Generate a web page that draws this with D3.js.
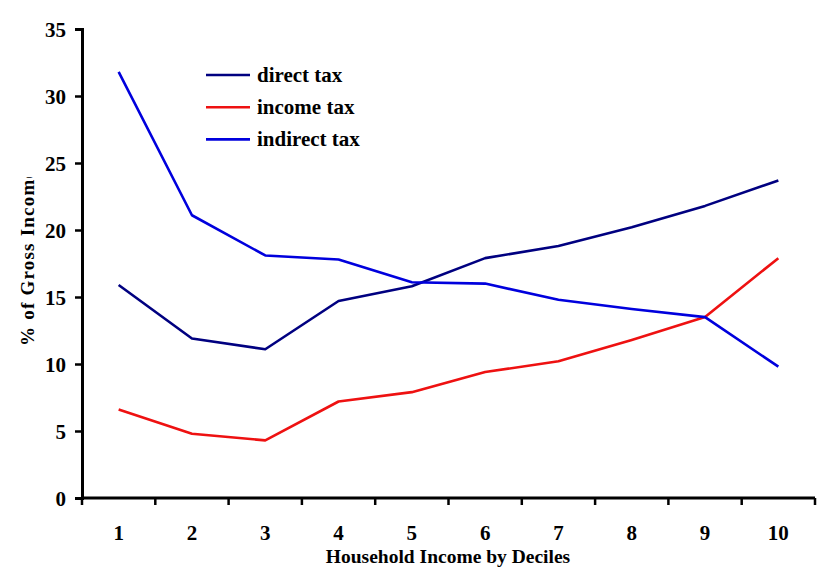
<!DOCTYPE html>
<html><head><meta charset="utf-8">
<script src="https://cdn.jsdelivr.net/npm/d3@7"></script>
<style>body{margin:0;background:#fff}svg{display:block}text{font-family:"Liberation Serif","Times New Roman",serif;font-weight:bold;fill:#000}</style>
</head><body>
<svg id="c" width="830" height="584"></svg>
<script>
const deciles = [1,2,3,4,5,6,7,8,9,10];
const directTax = [15.9,11.9,11.1,14.7,15.8,17.9,18.8,20.2,21.8,23.7];
const incomeTax = [6.6,4.8,4.3,7.2,7.9,9.4,10.2,11.8,13.5,17.9];
const indirectTax = [31.8,21.1,18.1,17.8,16.1,16.0,14.8,14.1,13.5,9.8];
const yTicks = [0,5,10,15,20,25,30,35];
const seriesNames = ["direct tax","income tax","indirect tax"];
const seriesColors = ["#000080","#ee1111","#0000dd"];
const seriesData = [directTax, incomeTax, indirectTax];

const svg = d3.select("#c");
const L = 82, R = 815, T = 29, B = 498;
const x = d3.scaleBand().domain(deciles).range([L, R]);
const y = d3.scaleLinear().domain([0,35]).range([B, T]);

// y axis
const ya = svg.append("g").attr("transform",`translate(${L},0)`)
  .call(d3.axisLeft(y).tickValues(yTicks).tickSize(7).tickPadding(9).tickFormat(d3.format("d")));
ya.select(".domain").attr("stroke","#000").attr("stroke-width",3);
ya.selectAll(".tick line").attr("stroke","#000").attr("stroke-width",2.5);
ya.selectAll(".tick text").style("font-size","21px").attr("dy","0.35em");

// x axis
const xa = svg.append("g").attr("transform",`translate(0,${B})`)
  .call(d3.axisBottom(x).tickSize(0).tickPadding(27));
xa.select(".domain").attr("stroke","#000").attr("stroke-width",3).attr("d",`M${L},0H${R}`);
xa.selectAll(".tick text").style("font-size","21px");
const bounds = deciles.map(d => x(d)).concat([R]);
xa.selectAll(".bt").data(bounds).enter().append("line")
  .attr("x1",d=>d).attr("x2",d=>d).attr("y1",0).attr("y2",7)
  .attr("stroke","#000").attr("stroke-width",2.5);

// lines
const line = d3.line().x((d,i)=>x(deciles[i])+x.bandwidth()/2).y(d=>y(d));
seriesData.forEach((s,k)=>{
  svg.append("path").datum(s).attr("d",line).attr("fill","none")
    .attr("stroke",seriesColors[k]).attr("stroke-width",2.6).attr("stroke-linejoin","round");
});

// legend
seriesNames.forEach((n,k)=>{
  const yy = 75 + k*32.2;
  svg.append("line").attr("x1",206).attr("x2",250).attr("y1",yy).attr("y2",yy)
    .attr("stroke",seriesColors[k]).attr("stroke-width",2.6);
  svg.append("text").attr("x",257).attr("y",yy+7).style("font-size","21px").text(n);
});

// axis titles
svg.append("text").attr("x",448).attr("y",563).attr("text-anchor","middle")
  .style("font-size","19.5px").text("Household Income by Deciles");
svg.append("clipPath").attr("id","yc").append("rect").attr("x",0).attr("y",177).attr("width",60).attr("height",300);
svg.append("g").attr("clip-path","url(#yc)")
  .append("text").attr("transform","translate(34,346) rotate(-90)")
  .attr("text-anchor","start").attr("textLength",176).attr("lengthAdjust","spacing")
  .style("font-size","19px").text("% of Gross Income");
</script>
</body></html>
